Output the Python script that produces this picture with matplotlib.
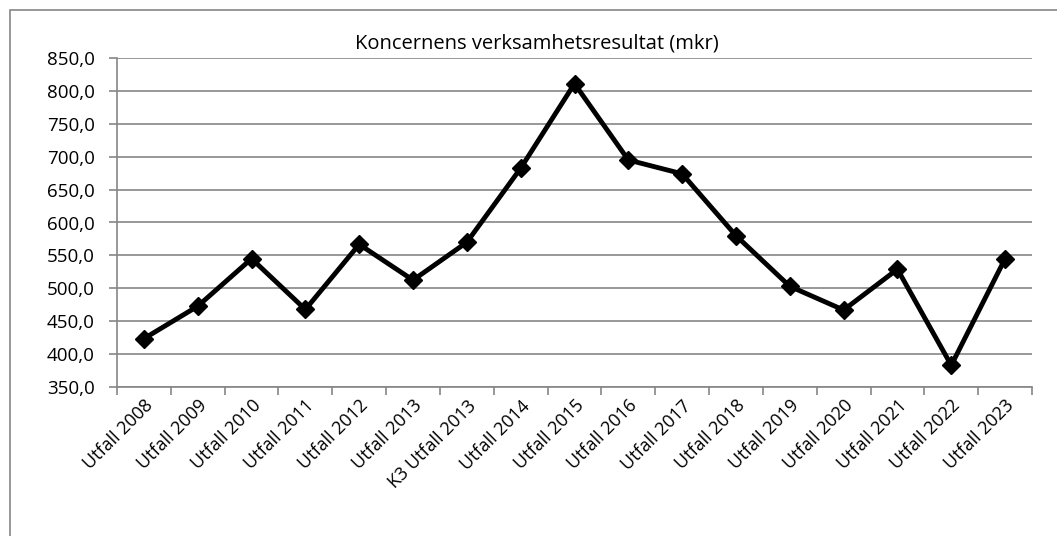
import matplotlib.pyplot as plt
from matplotlib.patches import Rectangle

labels = ['Utfall 2008', 'Utfall 2009', 'Utfall 2010', 'Utfall 2011', 'Utfall 2012',
          'Utfall 2013', 'K3 Utfall 2013', 'Utfall 2014', 'Utfall 2015', 'Utfall 2016',
          'Utfall 2017', 'Utfall 2018', 'Utfall 2019', 'Utfall 2020', 'Utfall 2021',
          'Utfall 2022', 'Utfall 2023']
values = [423.5, 472.8, 545.0, 467.8, 566.8, 512.4, 570.0, 682.5, 811.0, 695.0,
          674.0, 580.0, 503.0, 467.0, 529.0, 383.0, 545.0]
yticks = list(range(350, 851, 50))

plt.rcParams['font.family'] = ['Open Sans', 'DejaVu Sans']

W, H = 1057, 536
fig = plt.figure(figsize=(W / 100, H / 100), dpi=100)
# chart border (cropped at right/bottom)
fig.patches.append(Rectangle((10 / W, -0.1), 1.2, 1 - 10 / H + 0.1, transform=fig.transFigure,
                             fill=False, edgecolor='#868686', lw=1.2))

ax = fig.add_axes([117 / W, 1 - 387 / H, (1032 - 117) / W, (387 - 58) / H])
n = len(labels)
x = list(range(n))
ax.plot(x, values, color='black', lw=3.5, marker='D', markersize=9.5, solid_joinstyle='miter')

ax.set_xlim(-0.5, n - 0.5)
ax.set_ylim(350, 850)
ax.set_yticks(yticks)
ax.set_yticklabels([f'{v},0' for v in yticks], fontsize=13.5)
ax.yaxis.grid(True, color='#868686', lw=1.2)
ax.set_axisbelow(True)

ax.set_xticks([i - 0.5 for i in range(n + 1)])
ax.set_xticklabels([])
ax.set_xticks(x, minor=True)
ax.set_xticklabels(labels, minor=True, rotation=45, ha='right', va='top',
                   rotation_mode='anchor', fontsize=13)
ax.tick_params(axis='x', which='minor', length=0, pad=7)
ax.tick_params(axis='x', which='major', length=6, color='#868686', width=1.2)
ax.tick_params(axis='y', length=6, color='#868686', width=1.2, pad=10)

for s in ['top', 'right']:
    ax.spines[s].set_visible(False)
for s in ['left', 'bottom']:
    ax.spines[s].set_color('#868686')
    ax.spines[s].set_linewidth(1.2)

fig.text(537 / W, 1 - 43 / H, 'Koncernens verksamhetsresultat (mkr)', ha='center', va='center',
         fontsize=14.5)

fig.savefig('out.png', dpi=100)
